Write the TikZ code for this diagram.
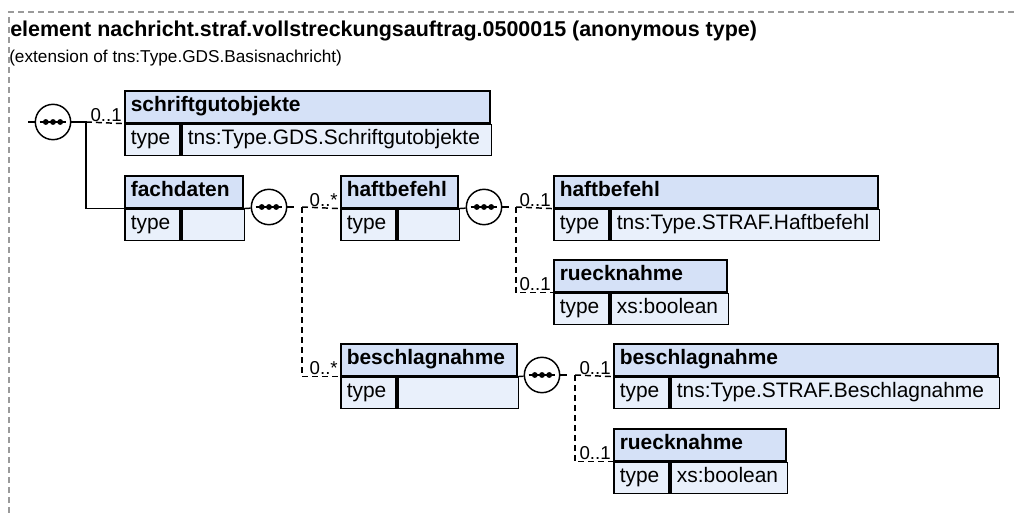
\documentclass[tikz,border=0pt]{standalone}
\usepackage{fontspec}
\setmainfont{Liberation Sans}
\usepackage{xcolor}
\usepackage{tikz}
\definecolor{HeadBlue}{HTML}{D5E1F7}
\definecolor{BodyBlue}{HTML}{E9F0FB}
\definecolor{FrameGray}{HTML}{9A9A9A}

\tikzset{
  elhead/.style={draw, fill=HeadBlue, line width=1.2pt, anchor=north west,
    minimum height=24pt, inner xsep=4.5pt, inner ysep=0pt, align=left,
    text height=11pt, text depth=3.5pt, font=\bfseries\fontsize{15.7}{18}\selectfont},
  eltype/.style={draw, fill=BodyBlue, line width=1.2pt, anchor=north west,
    minimum height=23.25pt, minimum width=41.6pt, text width=32.6pt,
    inner xsep=4.5pt, inner ysep=0pt, align=left,
    text height=11pt, text depth=3.5pt, font=\fontsize{15.7}{18}\selectfont},
  elval/.style={eltype, minimum width=1pt},
  seq/.style={circle, draw, fill=white, line width=1.1pt, minimum size=26.5pt, inner sep=0pt,
    path picture={
      \draw[black, line width=1.3pt] ([xshift=-10pt]path picture bounding box.center)
        -- ([xshift=10pt]path picture bounding box.center);
      \foreach \dx in {-5.4pt,0pt,5.4pt}
        \fill[black] ([xshift=\dx]path picture bounding box.center) circle (2.2pt);
    }},
  conn/.style={line width=1.1pt},
  opt/.style={line width=1.1pt, dash pattern=on 4.5pt off 3pt},
  mult/.style={anchor=base east, inner sep=0pt, font=\fontsize{14}{16}\selectfont},
  frame/.style={FrameGray, line width=0.8pt, dash pattern=on 4.5pt off 3pt},
}

% element box: name, x, y, width (px), title, type
\newcommand{\elbox}[6]{%
  \pgfmathsetlengthmacro{\ElHeadW}{#4*0.75pt}%
  \pgfmathsetlengthmacro{\ElHeadTW}{#4*0.75pt-9pt}%
  \pgfmathsetlengthmacro{\ElValW}{(#4-55.5)*0.75pt}%
  \pgfmathsetlengthmacro{\ElValTW}{(#4-55.5)*0.75pt-9pt}%
  \node[elhead, minimum width=\ElHeadW, text width=\ElHeadTW] (#1) at (#2,#3) {#5};
  \node[eltype] (#1-t) at (#1.south west) {type};
  \node[elval, minimum width=\ElValW, text width=\ElValTW] (#1-v) at (#1-t.north east) {#6};
}

\begin{document}
\begin{tikzpicture}[x=0.75pt, y=-0.75pt]
\useasboundingbox (0,0) rectangle (1014,513);

% frame and heading
\draw[frame] (9,513) -- (9,12) -- (1014,12);
\node[anchor=base west, inner sep=0pt, font=\bfseries\fontsize{16.1}{19}\selectfont] (ttl) at (10,37)
  {element nachricht.straf.vollstreckungsauftrag.0500015 (anonymous type)};
\node[anchor=base west, inner sep=0pt, font=\fontsize{12.9}{15}\selectfont] (sub) at (9,63)
  {(extension of tns:Type.GDS.Basisnachricht)};

% elements
\elbox{schrift}{124}{90}{365}{schriftgutobjekte}{tns:Type.GDS.Schriftgutobjekte}
\elbox{fach}{124}{175}{118}{fachdaten}{}
\elbox{haft}{340}{175}{117}{haftbefehl}{}
\elbox{besch}{340}{343}{176}{beschlagnahme}{}
\elbox{haft2}{553}{175}{324}{haftbefehl}{tns:Type.STRAF.Haftbefehl}
\elbox{rueck1}{553}{259}{173}{ruecknahme}{xs:boolean}
\elbox{besch2}{613}{343}{384}{beschlagnahme}{tns:Type.STRAF.Beschlagnahme}
\elbox{rueck2}{613}{428}{172}{ruecknahme}{xs:boolean}

% sequences
\node[seq] (s1) at (53,122) {};
\node[seq] (s2) at (269,207) {};
\node[seq] (s3) at (484,207) {};
\node[seq] (s4) at (542,375) {};

\coordinate (root) at (28,122);
\coordinate (j1) at (86,122);
\coordinate (j2) at (302,207);
\coordinate (j3) at (516,207);
\coordinate (j4) at (575,375);

% connectors
\draw[conn] (root) -- (s1);
\draw[conn] (s1) -- (j1) |- (fach.south west);
\draw[opt] (j1) -- (schrift.south west);
\draw[conn] (fach.south east) -- (s2);
\draw[conn] (s2) -- ([xshift=5pt]s2.east);
\draw[opt] (j2) -- (haft.south west);
\draw[opt] (j2) |- (besch.south west);
\draw[conn] (haft.south east) -- (s3);
\draw[conn] (s3) -- ([xshift=5pt]s3.east);
\draw[opt] (j3) -- (haft2.south west);
\draw[opt] (j3) |- (rueck1.south west);
\draw[conn] (besch.south east) -- (s4);
\draw[conn] (s4) -- ([xshift=5pt]s4.east);
\draw[opt] (j4) -- (besch2.south west);
\draw[opt] (j4) |- (rueck2.south west);

% multiplicities
\node[mult] (m-schrift) at ([xshift=-1.5pt,yshift=1.5pt]schrift.south west) {0..1};
\node[mult] (m-haft) at ([xshift=-1.5pt,yshift=1.5pt]haft.south west) {0..*};
\node[mult] (m-besch) at ([xshift=-1.5pt,yshift=1.5pt]besch.south west) {0..*};
\node[mult] (m-haft2) at ([xshift=-1.5pt,yshift=1.5pt]haft2.south west) {0..1};
\node[mult] (m-rueck1) at ([xshift=-1.5pt,yshift=1.5pt]rueck1.south west) {0..1};
\node[mult] (m-besch2) at ([xshift=-1.5pt,yshift=1.5pt]besch2.south west) {0..1};
\node[mult] (m-rueck2) at ([xshift=-1.5pt,yshift=1.5pt]rueck2.south west) {0..1};
\end{tikzpicture}
\end{document}
